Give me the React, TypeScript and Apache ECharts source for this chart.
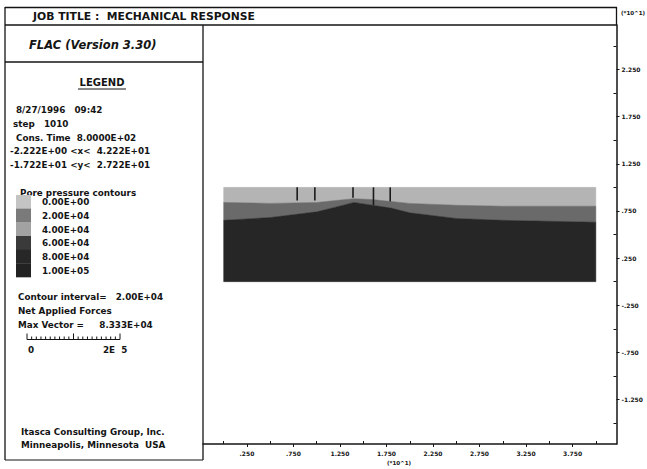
import React, { useEffect, useRef } from 'react';
import * as echarts from 'echarts';

// ---- axes ----
const xRange = [-2.222, 42.22];
const yRange = [-17.22, 27.22];
const xTickValues = [2.5, 7.5, 12.5, 17.5, 22.5, 27.5, 32.5, 37.5];
const xTickLabels = ['.250', '.750', '1.250', '1.750', '2.250', '2.750', '3.250', '3.750'];
const xInnerTicks = [0, 5, 10, 15, 20, 25, 30, 35, 40];
const yTickValues = [22.5, 17.5, 12.5, 7.5, 2.5, -2.5, -7.5, -12.5];
const yTickLabels = ['2.250', '1.750', '1.250', '.750', '.250', '-.250', '-.750', '-1.250'];
const yInnerTicks = [25, 20, 15, 10, 5, 0, -5, -10, -15];

// ---- mesh & contour boundaries ----
const boundaryX = [0, 5, 10, 12, 14, 16, 18, 20, 25, 30, 35, 40];
const meshTopY = [10, 10, 10, 10, 10, 10, 10, 10, 10, 10, 10, 10];
const boundaryLight = [8.4, 8.3, 8.4, 8.6, 8.8, 8.7, 8.5, 8.3, 8.1, 8.0, 8.0, 8.0];
const boundaryDark = [6.5, 6.8, 7.4, 7.9, 8.4, 8.1, 7.8, 7.3, 6.7, 6.5, 6.4, 6.3];
const meshBottomY = [0, 0, 0, 0, 0, 0, 0, 0, 0, 0, 0, 0];
const bandColors = ['#b4b4b4', '#6a6a6a', '#262626'];

// ---- applied force vectors ----
const vectorX = [7.9, 9.8, 13.9, 16.1, 17.9];
const vectorTipY = [8.6, 8.6, 8.9, 8.1, 8.5];
const vectorBaseY = 10;

// ---- legend ----
const contourLevels = ['0.00E+00', '2.00E+04', '4.00E+04', '6.00E+04', '8.00E+04', '1.00E+05'];
const contourColors = ['#c4c4c4', '#7a7a7a', '#a2a2a2', '#3a3a3a', '#272727', '#222222'];
const infoLines = [
  { t: '8/27/1996   09:42', x: 16 },
  { t: 'step   1010', x: 13 },
  { t: 'Cons. Time  8.0000E+02', x: 16 },
  { t: '-2.222E+00 <x<  4.222E+01', x: 10 },
  { t: '-1.722E+01 <y<  2.722E+01', x: 10 },
];

const FONT = 'DejaVu Sans, Liberation Sans, Arial, sans-serif';
const INK = '#141414';
const BODY = 8.8;

function txt(text: string, x: number, y: number, size: number, extra: any = {}) {
  return {
    type: 'text',
    silent: true,
    style: {
      text, x, y, fontSize: size, fontFamily: FONT, fill: INK, fontWeight: 'bold',
      textVerticalAlign: 'middle', textAlign: 'left', ...extra,
    },
  };
}
function ln(x1: number, y1: number, x2: number, y2: number, w = 1.3, color = INK) {
  return { type: 'line', silent: true, shape: { x1, y1, x2, y2 }, style: { stroke: color, lineWidth: w } };
}

export default function App() {
  const ref = useRef<HTMLDivElement>(null);
  useEffect(() => {
    document.body.style.margin = '0';
    const chart = echarts.init(ref.current!, null, { renderer: 'svg' });

    const graphics: any[] = [];
    // frame
    graphics.push(ln(5, 7.5, 617, 7.5));
    graphics.push(ln(5, 25, 617, 25));
    graphics.push(ln(5, 7, 5, 460));
    graphics.push(ln(203, 25, 203, 460));
    graphics.push(ln(5, 62, 203, 62));
    graphics.push(ln(5, 460, 203, 460, 1));
    graphics.push(ln(616.5, 7, 616.5, 25));
    // headings
    graphics.push(txt('JOB TITLE :  MECHANICAL RESPONSE', 33, 16.5, 10.8));
    graphics.push(txt('FLAC (Version 3.30)', 29, 45, 11.5, { fontStyle: 'italic' }));
    graphics.push(txt('LEGEND', 102, 82, 10, { textAlign: 'center' }));
    graphics.push(ln(78, 89, 126, 89, 1));
    infoLines.forEach((l, i) => graphics.push(txt(l.t, l.x, 110 + i * 13.8, BODY)));
    graphics.push(txt('Pore pressure contours', 20, 193, BODY));
    const swTop = 195, swH = 13.67;
    contourLevels.forEach((lab, i) => {
      graphics.push({
        type: 'rect', silent: true,
        shape: { x: 16, y: swTop + i * swH, width: 15, height: swH + 0.3 },
        style: { fill: contourColors[i] },
      });
      graphics.push(txt(lab, 42, 202 + i * 13.8, BODY));
    });
    graphics.push(txt('Contour interval=   2.00E+04', 18, 297, BODY));
    graphics.push(txt('Net Applied Forces', 18, 311, BODY));
    graphics.push(txt('Max Vector =     8.333E+04', 18, 325, BODY));
    // ruler
    const rx0 = 27, rx1 = 120, ry = 339.5;
    graphics.push(ln(rx0, ry, rx1, ry, 1));
    for (let k = 0; k <= 20; k++) {
      const x = rx0 + ((rx1 - rx0) * k) / 20;
      const h = k === 0 || k === 10 || k === 20 ? 6 : 3;
      graphics.push(ln(x, ry - h, x, ry, 1));
    }
    graphics.push(txt('0', 28, 350, BODY));
    graphics.push(txt('2E  5', 103, 350, BODY));
    graphics.push(txt('Itasca Consulting Group, Inc.', 21, 432, BODY));
    graphics.push(txt('Minneapolis, Minnesota  USA', 21, 445, BODY));
    // axis names
    graphics.push(txt('(*10^1)', 399, 463, 5.5, { textAlign: 'center' }));
    graphics.push(txt('(*10^1)', 621, 12.5, 5.5));

    const bandUpper = [meshTopY, boundaryLight, boundaryDark];
    const bandLower = [boundaryLight, boundaryDark, meshBottomY];

    const labelStyle = { fontSize: 6, fontFamily: FONT, color: INK, fontWeight: 'bold' };

    chart.setOption({
      animation: false,
      backgroundColor: '#ffffff',
      grid: { left: 203, top: 25, width: 413.5, height: 419, outerBoundsMode: 'none', containLabel: false },
      xAxis: [
        {
          type: 'value', min: xRange[0], max: xRange[1], position: 'bottom',
          axisLine: { show: true, onZero: false, lineStyle: { color: INK, width: 1.5 } },
          axisTick: { show: true, customValues: xTickValues, length: 3, lineStyle: { color: INK, width: 1 } },
          axisLabel: {
            customValues: xTickValues, margin: 6, ...labelStyle,
            formatter: (v: number) => xTickLabels[xTickValues.indexOf(v)] ?? '',
          },
          splitLine: { show: false },
        },
        {
          type: 'value', min: xRange[0], max: xRange[1], position: 'bottom',
          axisLine: { show: false, onZero: false },
          axisTick: { show: true, inside: true, customValues: xInnerTicks, length: 3, lineStyle: { color: INK, width: 1 } },
          axisLabel: { show: false },
          splitLine: { show: false },
        },
      ],
      yAxis: [
        {
          type: 'value', min: yRange[0], max: yRange[1], position: 'right',
          axisLine: { show: true, onZero: false, lineStyle: { color: INK, width: 1.5 } },
          axisTick: { show: true, customValues: yTickValues, length: 3, lineStyle: { color: INK, width: 1 } },
          axisLabel: {
            customValues: yTickValues, margin: 5, ...labelStyle,
            formatter: (v: number) => yTickLabels[yTickValues.indexOf(v)] ?? '',
          },
          splitLine: { show: false },
        },
        {
          type: 'value', min: yRange[0], max: yRange[1], position: 'right',
          axisLine: { show: false, onZero: false },
          axisTick: { show: true, inside: true, customValues: yInnerTicks, length: 3, lineStyle: { color: INK, width: 1 } },
          axisLabel: { show: false },
          splitLine: { show: false },
        },
      ],
      series: [
        {
          type: 'custom',
          xAxisIndex: 0, yAxisIndex: 0,
          silent: true,
          data: bandColors.map((_, i) => [i]),
          renderItem: (params: any, api: any) => {
            const i = params.dataIndex;
            const up = bandUpper[i], lo = bandLower[i];
            const pts: number[][] = [];
            for (let k = 0; k < boundaryX.length; k++) pts.push(api.coord([boundaryX[k], up[k]]));
            for (let k = boundaryX.length - 1; k >= 0; k--) pts.push(api.coord([boundaryX[k], lo[k]]));
            return { type: 'polygon', shape: { points: pts }, style: { fill: bandColors[i], stroke: bandColors[i], lineWidth: 0.5 } };
          },
        },
        {
          type: 'custom',
          xAxisIndex: 0, yAxisIndex: 0,
          silent: true,
          data: vectorX.map((x, i) => [x, vectorTipY[i]]),
          renderItem: (params: any, api: any) => {
            const x = api.value(0), y = api.value(1);
            const a = api.coord([x, vectorBaseY]);
            const b = api.coord([x, y]);
            return { type: 'line', shape: { x1: a[0], y1: a[1], x2: b[0], y2: b[1] }, style: { stroke: '#1a1a1a', lineWidth: 1.6 } };
          },
        },
      ],
      graphic: graphics,
    });
    return () => chart.dispose();
  }, []);
  return <div ref={ref} style={{ width: 647, height: 469 }} />;
}
